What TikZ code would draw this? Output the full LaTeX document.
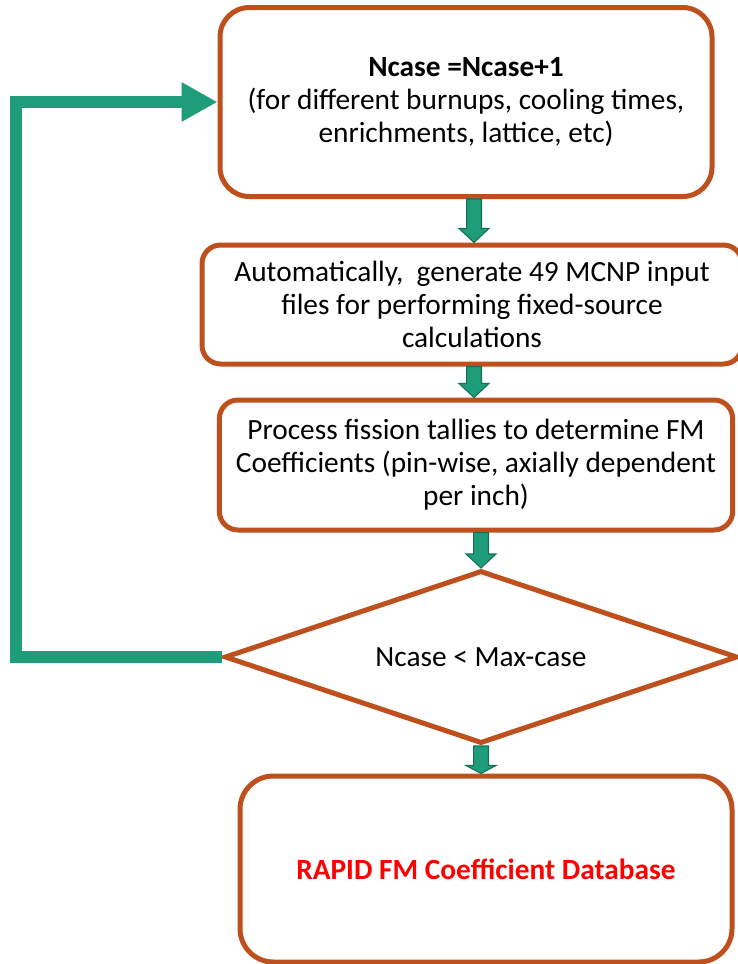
\documentclass[tikz,border=0pt]{standalone}
\usepackage{fontspec}
\setmainfont{Carlito}
\usetikzlibrary{shapes.geometric,calc,arrows.meta}

\definecolor{rimorange}{RGB}{190,80,30}
\definecolor{flowgreen}{RGB}{31,156,122}
\definecolor{flowdark}{RGB}{19,112,86}
\definecolor{dbred}{RGB}{255,0,0}

\tikzset{
  stepbox/.style={draw=rimorange, line width=3.75pt, rounded corners=#1, fill=white,
    align=center, inner sep=0pt, font=\fontsize{22}{24.75}\selectfont},
  stepbox/.default=14pt,
  testbox/.style={diamond, shape aspect=2.97, draw=rimorange, line width=3.75pt, fill=white,
    inner sep=0pt, font=\fontsize{22}{24.75}\selectfont},
  looparrow/.style={draw=flowgreen, line width=9pt, line join=miter,
    -{Triangle[width=27.75pt,length=27pt]}},
  flowarrow/.style={draw=flowdark, fill=flowgreen, line width=0.8pt, line join=miter,
    to path={let \p1=(\tikztostart), \p2=(\tikztotarget) in
      (\x1-5.6pt,\y1) -- (\x1-5.6pt,\y2+#1) -- (\x1-11.25pt,\y2+#1) -- (\x1,\y2)
      -- (\x1+11.25pt,\y2+#1) -- (\x1+5.6pt,\y2+#1) -- (\x1+5.6pt,\y1) -- cycle}},
  flowarrow/.default=10.5pt
}

\begin{document}
\begin{tikzpicture}[x=0.75pt,y=-0.75pt]
\useasboundingbox (0,0) rectangle (738,964);
\coordinate (leftrail) at (16,0);
\coordinate (colA) at (474,0);
\coordinate (colB) at (481,0);

% boxes
\node[stepbox=22pt, minimum width=369pt, minimum height=141.75pt] (ncase) at (466,102)
  {\textbf{Ncase =Ncase+1}\\(for different burnups, cooling times,\\enrichments, lattice, etc)};
\node[stepbox, minimum width=405pt, minimum height=89.25pt] (genbox) at (472,304.5)
  {Automatically,\ \ generate 49 MCNP input\\files for performing fixed-source\\calculations};
\node[stepbox, minimum width=385pt, minimum height=97.5pt] (fmbox) at (476,465)
  {Process fission tallies to determine FM\\Coefficients (pin-wise, axially dependent\\per inch)};
\node[testbox, minimum width=384.75pt, minimum height=129.75pt] (cond) at (481,657)
  {Ncase < Max-case};
\node[stepbox=25pt, minimum width=369pt, minimum height=139.5pt] (dbase) at (486,869)
  {\textcolor{dbred}{\textbf{RAPID FM Coefficient Database}}};

% connectors
\draw[flowarrow] (colA |- ncase.south) to (colA |- genbox.north);
\draw[flowarrow] (colA |- genbox.south) to (colA |- fmbox.north);
\draw[flowarrow] (colB |- fmbox.south) to (colB |- cond.north);
\draw[flowarrow=6pt] (colB |- cond.south) to (colB |- dbase.north);
\draw[looparrow] (cond.west) -- (cond.west -| leftrail) -- (leftrail |- ncase.west) -- (ncase.west);

\end{tikzpicture}
\end{document}
